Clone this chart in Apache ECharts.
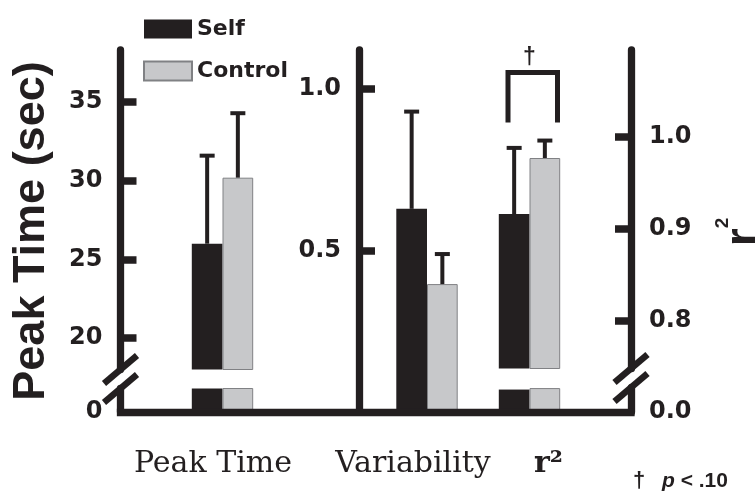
<!DOCTYPE html>
<html><head><meta charset="utf-8">
<script src="https://cdn.jsdelivr.net/npm/echarts@6/dist/echarts.min.js"></script>
<style>html,body{margin:0;padding:0;background:#fff}#c{width:755px;height:493px}</style>
</head><body><div id="c"></div>
<script>
// ---- data ----
const categories = ['Peak Time', 'Variability', 'r²'];
const seriesNames = ['Self', 'Control'];
const selfMean = [26.0, 0.629, 0.916];
const selfSE   = [5.6, 0.301, 0.072];
const ctrlMean = [30.2, 0.396, 0.977];
const ctrlSE   = [4.1, 0.093, 0.019];
const peakTicks = [20, 25, 30, 35];
const peakZeroTick = [0];
const varTicks = [0.5, 1.0];
const r2Ticks = [0.8, 0.9, 1.0];
const r2ZeroTick = [0];
const yTitle = 'Peak Time (sec)';
const sigMark = '†';
const footnoteText = 'p < .10';

// ---- style ----
const INK = '#231f20', GRAY = '#c7c8ca', EDGE = '#808184';
const AXW = 7.3, BARW = 30.7;
const tickFont = {fontFamily: 'DejaVu Sans', fontWeight: 'bold', fontSize: 24, color: INK};
const catFont = {fontFamily: 'DejaVu Serif', fontSize: 30, color: INK};

const chart = echarts.init(document.getElementById('c'), null, {renderer: 'canvas'});

const grids = [
  {left: 120.5, top: 50, width: 510.5, height: 362},   // 0 frame
  {left: 120.5, top: 50, width: 204, height: 319.5},   // 1 peak upper
  {left: 120.5, top: 388.5, width: 204, height: 23.5}, // 2 peak lower
  {left: 359, top: 50, width: 136, height: 362},       // 3 variability
  {left: 428, top: 50, width: 203, height: 318.5},     // 4 r2 upper
  {left: 428, top: 387.5, width: 203, height: 24.5}    // 5 r2 lower
].map(g => Object.assign({outerBoundsMode: 'none', containLabel: false}, g));

function catAxis(gi, cat, label, pad, weight) {
  return {
    gridIndex: gi, type: 'category', data: [cat],
    axisLine: {show: false}, axisTick: {show: false}, splitLine: {show: false},
    axisLabel: label ? Object.assign({show: true, margin: 37, padding: pad, interval: 0, fontWeight: weight || 'normal'}, catFont) : {show: false}
  };
}
function valAxis(gi, min, max, pos, ticks, fmt, showTick, showLine) {
  return {
    gridIndex: gi, type: 'value', min: min, max: max, position: pos,
    splitLine: {show: false},
    axisLine: {show: showLine, lineStyle: {color: INK, width: AXW}},
    axisTick: {show: showTick, inside: true, length: 16, customValues: ticks, lineStyle: {color: INK, width: 7.5}},
    axisLabel: Object.assign({show: true, margin: 18, customValues: ticks, formatter: fmt}, tickFont)
  };
}
const fmt0 = v => String(Math.round(v));
const fmt1 = v => v.toFixed(1);

const xAxis = [
  {gridIndex: 0, type: 'category', data: [''], z: 10,
   axisLine: {show: true, lineStyle: {color: INK, width: AXW, cap: 'square'}},
   axisTick: {show: false}, axisLabel: {show: false}, splitLine: {show: false}},
  catAxis(1, categories[0], false),
  catAxis(2, categories[0], true, [0, 19, 0, 0]),
  catAxis(3, categories[1], true, [0, 28, 0, 0]),
  catAxis(4, categories[2], false),
  catAxis(5, categories[2], true, [0, 0, 0, 38], 'bold')
];
const yAxis = [
  {gridIndex: 0, type: 'value', min: 0, max: 1,
   axisLine: {show: false}, axisTick: {show: false}, axisLabel: {show: false}, splitLine: {show: false},
   name: yTitle, nameLocation: 'middle', nameGap: 66,
   nameTextStyle: {fontFamily: 'Liberation Sans', fontWeight: 'bold', fontSize: 45, color: INK}},
  valAxis(1, 18, 38.32, 'left', peakTicks, fmt0, true, true),
  valAxis(2, 0, 1, 'left', peakZeroTick, fmt0, false, true),
  valAxis(3, 0, 1.1207, 'left', varTicks, fmt1, true, true),
  valAxis(4, 0.7478, 1.0946, 'right', r2Ticks, fmt1, true, true),
  valAxis(5, 0, 1, 'right', r2ZeroTick, fmt1, false, true)
];

function bars(gi, i) {
  return [
    {name: seriesNames[0], type: 'bar', xAxisIndex: gi, yAxisIndex: gi, data: [selfMean[i]],
     barWidth: BARW, barGap: '0%', clip: true, itemStyle: {color: INK}},
    {name: seriesNames[1], type: 'bar', xAxisIndex: gi, yAxisIndex: gi, data: [ctrlMean[i]],
     barWidth: BARW, barGap: '0%', clip: true, itemStyle: {color: GRAY, borderColor: EDGE, borderWidth: 1}}
  ];
}
function errRender(params, api) {
  const cat = api.value(0), side = api.value(3);
  const base = api.coord([cat, api.value(1)]);
  const tip = api.coord([cat, api.value(2)]);
  const x = base[0] + side * BARW / 2;
  return {type: 'group', children: [
    {type: 'line', shape: {x1: x, y1: base[1], x2: x, y2: tip[1]}, style: {stroke: INK, lineWidth: 4}},
    {type: 'line', shape: {x1: x - 7.5, y1: tip[1], x2: x + 7.5, y2: tip[1]}, style: {stroke: INK, lineWidth: 4}}
  ]};
}
function errors(gi, i) {
  return {type: 'custom', xAxisIndex: gi, yAxisIndex: gi, clip: false, z: 5,
    encode: {x: 0, y: [1, 2]},
    data: [[0, selfMean[i], selfMean[i] + selfSE[i], -1], [0, ctrlMean[i], ctrlMean[i] + ctrlSE[i], 1]],
    renderItem: errRender};
}
function slash(gi, right, bottom) {
  return {type: 'custom', xAxisIndex: gi, yAxisIndex: gi, clip: false, z: 6, silent: true,
    data: [[0, 0]],
    renderItem: function (params) {
      const cs = params.coordSys;
      const cx = right ? cs.x + cs.width : cs.x;
      const cy = bottom ? cs.y + cs.height : cs.y;
      return {type: 'line', shape: {x1: cx - 16.5, y1: cy + 14, x2: cx + 16.5, y2: cy - 14},
              style: {stroke: INK, lineWidth: 6.5}};
    }};
}
const bracket = {type: 'custom', xAxisIndex: 4, yAxisIndex: 4, clip: false, z: 6,
  data: [[0, selfMean[2] + selfSE[2], ctrlMean[2] + ctrlSE[2]]],
  encode: {x: 0, y: [1, 2]},
  renderItem: function (params, api) {
    const a = api.coord([api.value(0), api.value(1)]);
    const b = api.coord([api.value(0), api.value(2)]);
    const cx = a[0];
    const legB = Math.min(a[1], b[1]) - 18, top = legB - 50;
    const l = cx - 21.5, r = cx + 28;
    return {type: 'group', children: [
      {type: 'polyline', shape: {points: [[l, legB], [l, top], [r, top], [r, legB]]},
       style: {stroke: INK, lineWidth: 5, fill: null, lineJoin: 'miter'}},
      {type: 'text', style: {text: sigMark, x: cx, y: top - 15, align: 'center', verticalAlign: 'middle',
        font: 'bold 23px "Liberation Sans"', fill: INK}}
    ]};
  }};

const series = [].concat(
  bars(1, 0), bars(2, 0), bars(3, 1), bars(4, 2), bars(5, 2),
  [errors(1, 0), errors(3, 1), errors(4, 2), bracket,
   slash(1, false, true), slash(2, false, false), slash(4, true, true), slash(5, true, false)]
);

chart.setOption({
  animation: false,
  backgroundColor: '#fff',
  grid: grids,
  xAxis: xAxis,
  yAxis: yAxis,
  legend: {
    data: seriesNames, orient: 'vertical', left: 138, top: 13, itemWidth: 48, itemHeight: 19, itemGap: 20,
    icon: 'rect', selectedMode: false,
    textStyle: {fontFamily: 'DejaVu Sans', fontWeight: 'bold', fontSize: 22, color: INK}
  },
  graphic: [
    {type: 'text', x: 744, y: 232, rotation: Math.PI / 2,
     style: {text: '{r|r}{s|2}', align: 'center', verticalAlign: 'middle', fill: INK,
       rich: {r: {fontFamily: 'Liberation Sans', fontWeight: 'bold', fontSize: 46, lineHeight: 62, fill: INK},
              s: {fontFamily: 'Liberation Sans', fontWeight: 'bold', fontSize: 19, verticalAlign: 'top', fill: INK}}}},
    {type: 'text', x: 633, y: 481,
     style: {text: sigMark, font: 'bold 22px "Liberation Sans"', fill: INK, verticalAlign: 'middle'}},
    {type: 'text', x: 662, y: 481,
     style: {text: '{p|p}' + footnoteText.slice(1), font: 'bold 21px "Liberation Sans"', fill: INK, verticalAlign: 'middle',
       rich: {p: {fontFamily: 'Liberation Sans', fontWeight: 'bold', fontStyle: 'italic', fontSize: 21, fill: INK}}}}
  ],
  series: series
});
</script></body></html>
